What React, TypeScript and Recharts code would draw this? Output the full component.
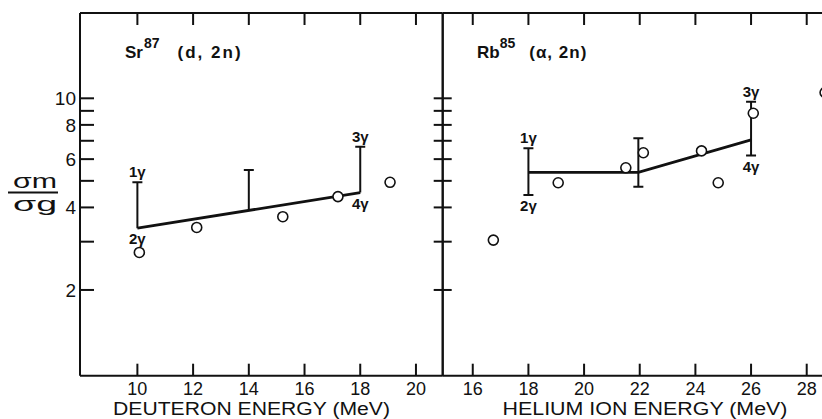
import React from 'react';
import { ComposedChart, Line, Scatter, XAxis, YAxis } from 'recharts';

// shared log axis: sigma_m / sigma_g
const yDomain = [0.9735, 20.47];
const yTicks = [2, 3, 4, 5, 6, 7, 8, 9, 10];
const yTickLabels = [2, 4, 6, 8, 10];

// Sr87 (d,2n)
const srDomain = [7.94, 20.96];
const srTicks = [10, 12, 14, 16, 18, 20];
const srPoints = [
  { x: 10.07, y: 2.74 },
  { x: 12.13, y: 3.38 },
  { x: 15.22, y: 3.7 },
  { x: 17.2, y: 4.38 },
  { x: 19.07, y: 4.94 },
];
const srFit = [
  { x: 10, y: 3.36 },
  { x: 18, y: 4.53 },
];
const srBars = [
  { x: 10, low: 3.36, high: 4.94 },
  { x: 14, low: 3.9, high: 5.48 },
  { x: 18, low: 4.53, high: 6.66 },
];
const srNotes = [
  { x: 10, y: 4.94, text: '1γ', below: false },
  { x: 10, y: 3.36, text: '2γ', below: true },
  { x: 18, y: 6.66, text: '3γ', below: false },
  { x: 18, y: 4.53, text: '4γ', below: true },
];

// Rb85 (α,2n)
const rbDomain = [14.92, 29];
const rbTicks = [16, 18, 20, 22, 24, 26, 28];
const rbPoints = [
  { x: 16.74, y: 3.04 },
  { x: 19.07, y: 4.92 },
  { x: 21.5, y: 5.58 },
  { x: 22.13, y: 6.33 },
  { x: 24.22, y: 6.43 },
  { x: 24.82, y: 4.92 },
  { x: 26.08, y: 8.82 },
  { x: 28.66, y: 10.5 },
];
const rbFit = [
  { x: 18, y: 5.37 },
  { x: 21.95, y: 5.37 },
  { x: 26, y: 7.05 },
];
const rbBars = [
  { x: 18, low: 4.44, high: 6.57 },
  { x: 21.95, low: 4.76, high: 7.15 },
  { x: 26, low: 6.18, high: 9.72 },
];
const rbNotes = [
  { x: 18, y: 6.57, text: '1γ', below: false },
  { x: 18, y: 4.44, text: '2γ', below: true },
  { x: 26, y: 9.72, text: '3γ', below: false },
  { x: 26, y: 6.18, text: '4γ', below: true },
];

type Pt = { x: number; y: number };
type ErrBar = { x: number; low: number; high: number };
type Note = { x: number; y: number; text: string; below: boolean };

const W = 822;
const H = 419;
const TOP = 13;
const BOTTOM = 375.7;
const INK = '#111';
const FONT = '"Liberation Sans", Arial, sans-serif';

interface PanelProps {
  width: number;
  left: number;
  right: number;
  domain: number[];
  ticks: number[];
  points: Pt[];
  fit: Pt[];
  bars: ErrBar[];
  notes: Note[];
  lowCaps: boolean;
  numbered: boolean;
  children?: React.ReactNode;
}

function Panel(p: PanelProps) {
  const line = { stroke: INK, strokeWidth: 2 };
  const blank = () => <g />;

  const xTick = (t: any) => (
    <text x={t.x} y={t.y + 30.8} textAnchor="middle" fontSize={18} fontFamily={FONT} fill={INK}>
      {t.payload.value}
    </text>
  );
  const yTick = (t: any) =>
    yTickLabels.includes(t.payload.value) ? (
      <text x={t.x - 18} y={t.y + 7} textAnchor="end" fontSize={19} fontFamily={FONT} fill={INK}>
        {t.payload.value}
      </text>
    ) : (
      <g />
    );

  const cap = (d: any) =>
    d.index === 1 || p.lowCaps ? (
      <line key={`c${d.index}`} x1={d.cx - 5} x2={d.cx + 5} y1={d.cy} y2={d.cy} stroke={INK} strokeWidth={2} />
    ) : (
      <g key={`c${d.index}`} />
    );

  const ring = (s: any) => <circle cx={s.cx} cy={s.cy} r={5} fill="#fff" stroke={INK} strokeWidth={1.6} />;
  const note = (s: any) => (
    <text
      x={s.cx}
      y={s.cy + (s.payload.below ? 16 : -5)}
      textAnchor="middle"
      fontSize={15}
      fontWeight="bold"
      fontFamily={FONT}
      fill={INK}
    >
      {s.payload.text}
    </text>
  );

  return (
    <ComposedChart
      width={p.width}
      height={H}
      margin={{ top: TOP - 1, bottom: H - BOTTOM - 1, left: p.left - 1, right: p.width - p.right - 1 }}
    >
      <XAxis
        xAxisId="b"
        dataKey="x"
        type="number"
        domain={p.domain}
        ticks={p.ticks}
        allowDataOverflow
        interval={0}
        height={1}
        tickSize={-12}
        tickMargin={0}
        tick={xTick}
        axisLine={line}
        tickLine={line}
      />
      <XAxis
        xAxisId="t"
        orientation="top"
        dataKey="x"
        type="number"
        domain={p.domain}
        ticks={p.ticks}
        allowDataOverflow
        interval={0}
        height={1}
        tickSize={-12}
        tickMargin={0}
        tick={blank}
        axisLine={line}
        tickLine={line}
      />
      <YAxis
        yAxisId="l"
        dataKey="y"
        type="number"
        scale="log"
        domain={yDomain}
        ticks={yTicks}
        allowDataOverflow
        interval={0}
        width={1}
        tickSize={p.numbered ? -14 : -9}
        tickMargin={0}
        tick={p.numbered ? yTick : blank}
        axisLine={line}
        tickLine={line}
      />
      <YAxis
        yAxisId="r"
        orientation="right"
        type="number"
        scale="log"
        domain={yDomain}
        ticks={yTicks}
        allowDataOverflow
        interval={0}
        width={1}
        tickSize={-9}
        tickMargin={0}
        tick={blank}
        axisLine={line}
        tickLine={line}
      />
      {p.bars.map((b, i) => (
        <Line
          key={`bar${i}`}
          xAxisId="b"
          yAxisId="l"
          data={[
            { x: b.x, y: b.low },
            { x: b.x, y: b.high },
          ]}
          dataKey="y"
          type="linear"
          stroke={INK}
          strokeWidth={2}
          dot={cap}
          activeDot={false}
          isAnimationActive={false}
        />
      ))}
      <Line
        xAxisId="b"
        yAxisId="l"
        data={p.fit}
        dataKey="y"
        type="linear"
        stroke={INK}
        strokeWidth={2.8}
        dot={false}
        activeDot={false}
        isAnimationActive={false}
      />
      <Scatter xAxisId="b" yAxisId="l" data={p.points} dataKey="y" shape={ring} isAnimationActive={false} />
      <Scatter xAxisId="b" yAxisId="l" data={p.notes} dataKey="y" shape={note} isAnimationActive={false} />
      {p.children}
    </ComposedChart>
  );
}

export default function App() {
  const rbWidth = 870;
  const rbRight = 442.7 + (rbDomain[1] - rbDomain[0]) * 27.83;
  return (
    <div style={{ position: 'absolute', left: 0, top: 0, width: W, height: H, overflow: 'hidden', background: '#fff' }}>
      <div style={{ position: 'absolute', left: 0, top: 0 }}>
        <Panel
          width={W}
          left={80}
          right={442.7}
          domain={srDomain}
          ticks={srTicks}
          points={srPoints}
          fit={srFit}
          bars={srBars}
          notes={srNotes}
          lowCaps={false}
          numbered
        >
          <text x={125} y={58} fontSize={17} fontWeight="bold" fontFamily={FONT} fill={INK}>
            Sr
            <tspan dy={-10} dx={1} fontSize={14}>87</tspan>
            <tspan dy={10} dx={18} letterSpacing={2}>(d, 2n)</tspan>
          </text>
          <text x={35} y={188} textAnchor="middle" fontSize={20} fontFamily={FONT} fill={INK} textLength={44} lengthAdjust="spacingAndGlyphs">
            σm
          </text>
          <line x1={8} x2={58} y1={192.5} y2={192.5} stroke={INK} strokeWidth={2} />
          <text x={35} y={211} textAnchor="middle" fontSize={20} fontFamily={FONT} fill={INK} textLength={44} lengthAdjust="spacingAndGlyphs">
            σg
          </text>
          <text x={251.5} y={414.6} textAnchor="middle" fontSize={18} fontFamily={FONT} fill={INK} textLength={277} lengthAdjust="spacingAndGlyphs">
            DEUTERON ENERGY (MeV)
          </text>
        </Panel>
      </div>
      <div style={{ position: 'absolute', left: 0, top: 0 }}>
        <Panel
          width={rbWidth}
          left={442.7}
          right={rbRight}
          domain={rbDomain}
          ticks={rbTicks}
          points={rbPoints}
          fit={rbFit}
          bars={rbBars}
          notes={rbNotes}
          lowCaps
          numbered={false}
        >
          <text x={477} y={58} fontSize={17} fontWeight="bold" fontFamily={FONT} fill={INK}>
            Rb
            <tspan dy={-10} fontSize={14}>85</tspan>
            <tspan dy={10} dx={14} letterSpacing={1}>(α, 2n)</tspan>
          </text>
          <text x={645} y={414.6} textAnchor="middle" fontSize={18} fontFamily={FONT} fill={INK} textLength={285} lengthAdjust="spacingAndGlyphs">
            HELIUM ION ENERGY (MeV)
          </text>
        </Panel>
      </div>
    </div>
  );
}
